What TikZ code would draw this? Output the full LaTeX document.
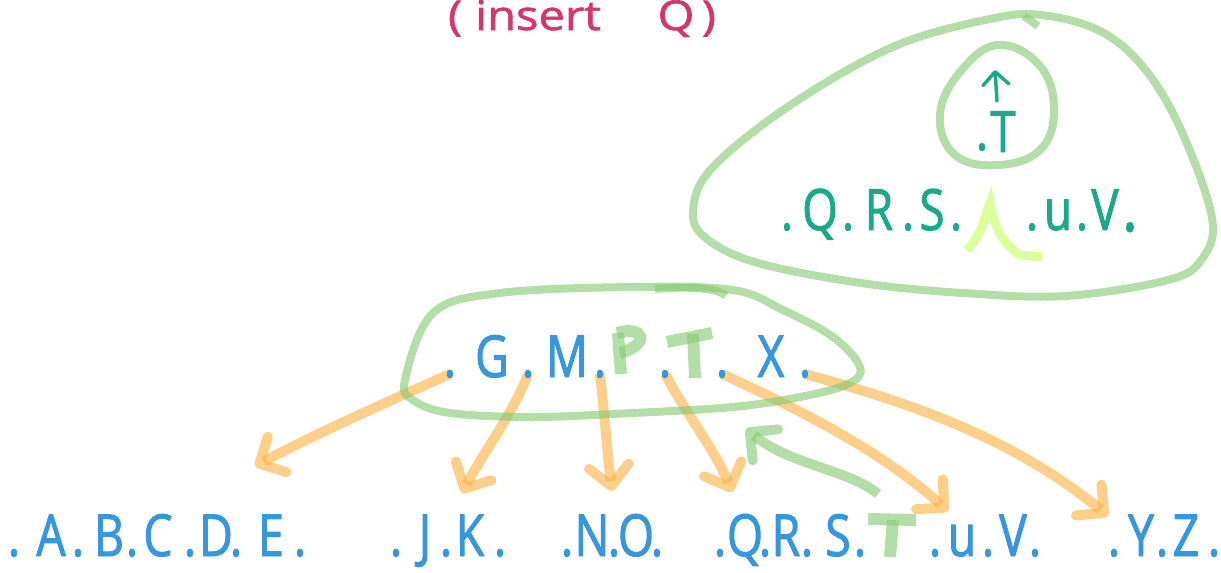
\documentclass[tikz,border=0pt]{standalone}
\usepackage{fontspec}
\newfontfamily\hand{Open Sans}[FakeStretch=0.8,FakeBold=1.6]
\newfontfamily\handwide{Open Sans}[FakeStretch=1.15,FakeBold=1.6]
\usetikzlibrary{arrows.meta}
\definecolor{blu}{RGB}{55,150,220}
\definecolor{teal2}{RGB}{26,170,138}
\definecolor{pink2}{RGB}{210,55,105}
\definecolor{org}{RGB}{250,175,60}
\definecolor{grn}{RGB}{130,200,110}
\definecolor{ylg}{RGB}{220,255,155}
\pgfdeclarelayer{bgone}
\pgfdeclarelayer{bgtwo}
\pgfsetlayers{bgone,bgtwo,main}
\begin{document}
\begin{tikzpicture}[x=1pt,y=-1pt,line cap=round,line join=round,
  bl/.style={text=blu,font=\hand\fontsize{58}{58}\selectfont,anchor=base,inner sep=0pt},
  tl/.style={text=teal2,font=\hand\fontsize{57}{57}\selectfont,anchor=base,inner sep=0pt},
  pl/.style={text=pink2,font=\handwide\fontsize{41}{41}\selectfont,anchor=base,inner sep=0pt},
  oarrow/.style={draw=org,draw opacity=0.6,line width=10pt,-{Straight Barb[length=20pt,width=40pt,round]}},
  garrow/.style={draw=grn,draw opacity=0.6,line width=10pt,-{Straight Barb[length=20pt,width=40pt,round]}},
  gline/.style={draw=grn,draw opacity=0.6,line width=8pt},
  gletter/.style={draw=grn,draw opacity=0.6,line width=12pt},
]
\useasboundingbox (0,0) rectangle (1221,573);

% title
\node[pl] (p1) at (455,30) {(};
\node[pl] (p2) at (538,30) {insert};
\node[pl] (p3) at (676,30) {Q};
\node[pl] (p4) at (709,30) {)};

% middle node keys
\foreach \x/\ch [count=\i] in {450/.,492/G,528/.,567/M,600/.,665/.,722/.,771/X,805/.}
  \node[bl] (m\i) at (\x,377) {\ch};

% bottom leaves
\foreach \x/\ch [count=\i] in {14/.,51/A,78/.,109/B,132/.,158/C,190/.,216/D,236/.,271/E,300/.}
  \node[bl] (a\i) at (\x,556) {\ch};
\foreach \x/\ch [count=\i] in {396/.,425/J,446/.,470/K,500/.}
  \node[bl] (b\i) at (\x,556) {\ch};
\foreach \x/\ch [count=\i] in {567/.,592/N,614/.,636/O,657/.}
  \node[bl] (c\i) at (\x,556) {\ch};
\foreach \x/\ch [count=\i] in {720/.,745/Q,765/.,786/R,807/.,838/S,860/.,935/.,962/u,988/.,1013/V,1035/.}
  \node[bl] (d\i) at (\x,556) {\ch};
\foreach \x/\ch [count=\i] in {1114/.,1141/Y,1162/.,1186/Z,1214/.}
  \node[bl] (e\i) at (\x,556) {\ch};

% top-right node
\foreach \x/\ch [count=\i] in {787/.,820/Q,848/.,879/R,908/.,932/S,956/.,1032/.,1058/u,1082/.,1105/V}
  \node[tl] (t\i) at (\x,230) {\ch};
\node[tl,font=\hand\fontsize{72}{72}\selectfont] (t12) at (1130,231) {.};
\node[tl] (ct) at (1003,152) {T};
\node[tl] (cd) at (982,150) {.};
\coordinate (up0) at (997,101);
\coordinate (up1) at (995,70);
\draw[teal2,line width=3.5pt,-{Straight Barb[length=13pt,width=26pt,round]}] (up0) -- (up1);

% arrow tips
\coordinate (k1) at (255,466);
\coordinate (k2) at (462,493);
\coordinate (k3) at (612,491);
\coordinate (k4) at (732,492);
\coordinate (k5) at (948,511);
\coordinate (k6) at (1108,516);
\coordinate (gs) at (878,494);
\coordinate (gt) at (746,429);

\begin{pgfonlayer}{bgone}
\draw[oarrow] (m1.center) .. controls (380,405) and (320,432) .. (k1);
\draw[oarrow] (m3.center) .. controls (515,410) and (482,455) .. (k2);
\draw[oarrow] (m5.center) .. controls (605,420) and (608,460) .. (k3);
\draw[oarrow] (m6.center) .. controls (690,420) and (715,450) .. (k4);
\draw[oarrow] (m7.center) .. controls (800,410) and (880,450) .. (k5);
\draw[oarrow] (m9.center) .. controls (900,400) and (1010,435) .. (k6);
\end{pgfonlayer}

\begin{pgfonlayer}{bgtwo}
% middle ellipse
\draw[gline] plot[smooth cycle,tension=0.6] coordinates {(405,380) (433,313) (500,293) (633,287) (733,290) (783,310) (833,337) (860,367) (848,384) (800,397) (733,407) (633,413) (533,417) (450,413) (413,400)};
\draw[gline] (655,289) .. controls (690,286) and (718,288) .. (726,296);
% big blob
\draw[gline] plot[smooth cycle,tension=0.6] coordinates {(693,212) (712,168) (792,104) (895,46) (990,19) (1041,15) (1100,31) (1144,68) (1181,130) (1212,218) (1202,259) (1168,280) (1065,296) (963,293) (861,283) (758,263) (707,239)};
\draw[gline] (1024,16) -- (1038,26);
% small circle
\draw[gline] plot[smooth cycle,tension=0.7] coordinates {(998,45) (1040,66) (1054,110) (1040,150) (998,165) (955,155) (940,115) (960,72)};
% wedge
\draw[ylg,line width=9pt] (967,250) .. controls (982,235) and (985,215) .. (990,203) .. controls (994,228) and (1004,245) .. (1020,255) -- (1042,257);
% green letters
\draw[gletter] (618,333) -- (621,374);
\draw[gletter] (617,333) .. controls (645,325) and (650,345) .. (620,353);
\draw[gletter] (667,342) -- (712,333);
\draw[gletter] (693,334) -- (695,378);
\draw[gletter] (868,519) -- (916,520);
\draw[gletter] (893,520) -- (890,557);
\draw[garrow] (gs) .. controls (850,470) and (790,465) .. (gt);
\end{pgfonlayer}
\end{tikzpicture}
\end{document}
